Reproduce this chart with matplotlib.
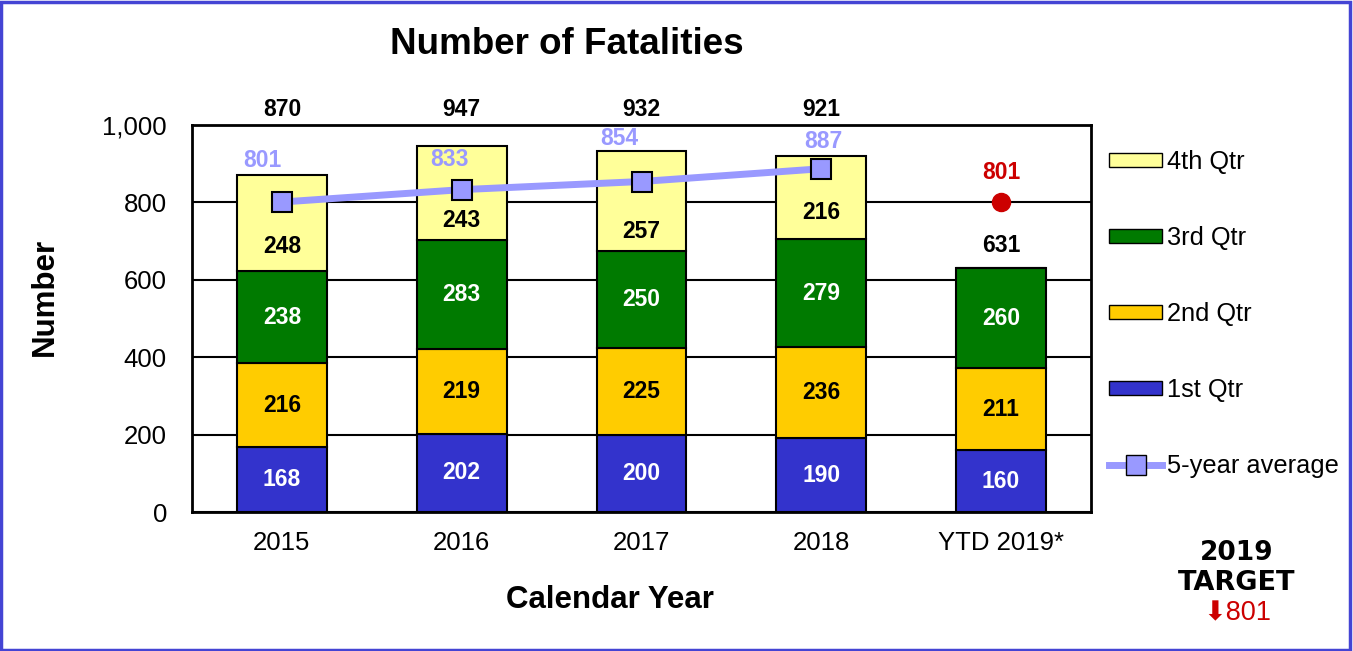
import matplotlib
matplotlib.use("Agg")
import matplotlib.pyplot as plt
import numpy as np
from matplotlib.patches import Rectangle
from matplotlib.lines import Line2D
from matplotlib.patches import Patch

plt.rcParams['font.family'] = ['Liberation Sans', 'DejaVu Sans']

# data
years = ["2015", "2016", "2017", "2018", "YTD 2019*"]
q1 = [168, 202, 200, 190, 160]
q2 = [216, 219, 225, 236, 211]
q3 = [238, 283, 250, 279, 260]
q4 = [248, 243, 257, 216, 0]
totals = [870, 947, 932, 921, 631]
avg5 = [801, 833, 854, 887]
target = 801

COL_Q1 = "#3333cc"
COL_Q2 = "#ffcc00"
COL_Q3 = "#007a00"
COL_Q4 = "#ffff99"
COL_AVG = "#9999ff"
COL_RED = "#cc0000"

fig = plt.figure(figsize=(13.53, 6.51), dpi=100)
ax = fig.add_axes([192/1353, 1-512/651, (1091-192)/1353, (512-125)/651])

x = np.arange(len(years))
w = 0.5
series = [(q1, COL_Q1, "white", "1st Qtr"), (q2, COL_Q2, "black", "2nd Qtr"),
          (q3, COL_Q3, "white", "3rd Qtr"), (q4, COL_Q4, "black", "4th Qtr")]
# the 4th-quarter labels sit lower in their boxes, clear of the average line (pixels)
q4_shift = [-23, -28, -30, -15, 0]
bottom = np.zeros(len(years))
for vals, col, tcol, name in series:
    vals = np.array(vals)
    ax.bar(x, vals, w, bottom=bottom, color=col, edgecolor="black", linewidth=1.5, zorder=2)
    for i, v in enumerate(vals):
        if v > 0:
            dy = q4_shift[i] if name == "4th Qtr" else 0
            ax.annotate(str(v), (x[i], bottom[i] + v/2), xytext=(0, dy),
                        textcoords="offset pixels", ha="center", va="center",
                        color=tcol, fontsize=16.5, fontweight="bold", zorder=4)
    bottom = bottom + vals

# totals
for i, t in enumerate(totals[:4]):
    ax.text(x[i], 1040, str(t), ha="center", va="center", fontsize=16.5,
            fontweight="bold", clip_on=False)
ax.annotate(str(totals[4]), (x[4], totals[4]), xytext=(0, 22), textcoords="offset pixels",
            ha="center", va="center", fontsize=16.5, fontweight="bold")

# 5-year average
xa = x[:len(avg5)]
ax.plot(xa, avg5, color=COL_AVG, linewidth=5, marker="s", markersize=15,
        markerfacecolor=COL_AVG, markeredgecolor="black", markeredgewidth=1.5, zorder=5)
avg_offsets = [(-20, 42), (-12, 30), (-22, 43), (2, 27)]
for xi, v, off in zip(xa, avg5, avg_offsets):
    ax.annotate(str(v), (xi, v), xytext=off, textcoords="offset pixels", ha="center",
                va="center", color=COL_AVG, fontsize=16.5, fontweight="bold", zorder=6)

# target marker
ax.plot([x[4]], [target], marker="o", markersize=13, color=COL_RED, zorder=5)
ax.annotate(str(target), (x[4], target), xytext=(0, 30), textcoords="offset pixels",
            ha="center", va="center", color=COL_RED, fontsize=16.5, fontweight="bold")

ax.set_xlim(-0.5, 4.5)
ax.set_ylim(0, 1000)
ax.set_yticks([0, 200, 400, 600, 800, 1000])
ax.set_yticklabels(["0", "200", "400", "600", "800", "1,000"])
ax.set_xticks(x)
ax.set_xticklabels(years)
ax.tick_params(axis="both", length=0, labelsize=18.5)
ax.tick_params(axis="y", pad=18)
ax.tick_params(axis="x", pad=14)
ax.yaxis.grid(True, color="black", linewidth=1.5, zorder=0)
ax.set_axisbelow(True)
for s in ax.spines.values():
    s.set_linewidth(2)
    s.set_color("black")

fig.text(610/1353, 1-600/651, "Calendar Year", ha="center", va="center",
         fontsize=22.5, fontweight="bold")
fig.text(45/1353, 1-297/651, "Number", rotation=90, ha="center", va="center",
         fontsize=22.5, fontweight="bold")
fig.text(567/1353, 1-45/651, "Number of Fatalities", ha="center", va="center",
         fontsize=26.5, fontweight="bold")

# legend
handles = [Patch(facecolor=COL_Q4, edgecolor="black", label="4th Qtr"),
           Patch(facecolor=COL_Q3, edgecolor="black", label="3rd Qtr"),
           Patch(facecolor=COL_Q2, edgecolor="black", label="2nd Qtr"),
           Patch(facecolor=COL_Q1, edgecolor="black", label="1st Qtr"),
           Line2D([], [], color=COL_AVG, linewidth=5, marker="s", markersize=15,
                  markerfacecolor=COL_AVG, markeredgecolor="black", label="5-year average")]
fig.legend(handles=handles, loc="center left", bbox_to_anchor=(1086/1353, 1-314/651),
           frameon=False, fontsize=18.3, handlelength=2.1, handleheight=0.5,
           handletextpad=0.2, labelspacing=2.05)

# target note
fig.text(1237/1353, 1-553/651, "2019", ha="center", va="center", fontsize=19,
         fontweight="bold", family="DejaVu Sans")
fig.text(1237/1353, 1-583/651, "TARGET", ha="center", va="center", fontsize=19.5,
         fontweight="bold", family="DejaVu Sans")
fig.text(1237/1353, 1-613/651, "\u2b07" + str(target), ha="center", va="center", fontsize=19.5,
         color=COL_RED, family=["Liberation Sans", "DejaVu Sans"])

# border
fig.patches.append(Rectangle((0.001, 0.002), 0.997, 0.995, transform=fig.transFigure,
                             fill=False, edgecolor="#4444d4", linewidth=2.5))

fig.savefig("out.png", dpi=100)
